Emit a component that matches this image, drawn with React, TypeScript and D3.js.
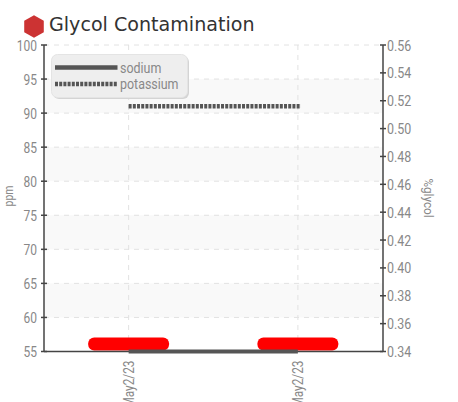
import React from "react";
import * as d3 from "d3";

const categories = ["a", "b"];
const categoryLabels = ["May2/23", "May2/23"];
const leftTicks = [55, 60, 65, 70, 75, 80, 85, 90, 95, 100];
const rightTicks = [0.34, 0.36, 0.38, 0.4, 0.42, 0.44, 0.46, 0.48, 0.5, 0.52, 0.54, 0.56];
const bands = [[90, 95], [80, 85], [70, 75], [60, 65]];
const sodium = [55, 55];
const potassium = [91, 91];
const glycol = [0.3454, 0.3454];

const L = 44, R = 383, T = 45, B = 351.5;
const font = "Roboto, sans-serif";
const S = 0.8;

export default function App() {
  const x = d3.scaleBand<string>().domain(categories).range([L, R - 0.5]);
  const cx = (c: string) => (x(c) as number) + x.bandwidth() / 2;
  const y = d3.scaleLinear().domain([55, 100]).range([B, T]);
  const y2 = d3.scaleLinear().domain([0.34, 0.56]).range([B, T]);
  const line = d3.line<number>().x((_, i) => cx(categories[i])).y((d) => y(d));
  const dotted = d3.line<number>().x((_, i) => cx(categories[i]) + (i ? 3 : 0)).y((d) => y(d));
  const barW = x.bandwidth() * 0.478;
  const barH = 13.2;
  const hex = d3.range(6).map((i) => {
    const a = Math.PI / 6 + (i * Math.PI) / 3;
    return `${34 + 11.3 * Math.cos(a)},${26.5 + 11.3 * Math.sin(a)}`;
  }).join(" ");

  return (
    <svg width={458} height={402} style={{ position: "absolute", left: 0, top: 0 }}>
      <polygon points={hex} fill="#cc3333" />
      <text x={49} y={31} fontFamily="'DejaVu Sans', sans-serif" fontSize={19.1} fill="#333">Glycol Contamination</text>

      {bands.map(([a, b]) => (
        <rect key={a} x={L} width={R - L} y={y(b)} height={y(a) - y(b)} fill="#f9f9f9" />
      ))}
      {leftTicks.slice(1).map((t) => (
        <line key={t} x1={L} x2={R} y1={y(t)} y2={y(t)} stroke="#e2e2e2" strokeDasharray="5 5" />
      ))}
      {categories.map((c) => (
        <line key={c} x1={cx(c)} x2={cx(c)} y1={T} y2={B} stroke="#e2e2e2" strokeDasharray="5 5" />
      ))}

      <path d={dotted(potassium) as string} fill="none" stroke="#555" strokeWidth={4.5} strokeDasharray="3 1.2" />
      {categories.map((c, i) => (
        <rect key={c} x={cx(c) - barW / 2} width={barW} y={y2(glycol[i]) - barH / 2} height={barH} rx={6} fill="#ff0000" />
      ))}

      <line x1={L} x2={L} y1={T} y2={B} stroke="#444" strokeWidth={1.5} />
      <line x1={R} x2={R} y1={T} y2={B} stroke="#444" strokeWidth={1.5} />
      <line x1={L} x2={R} y1={B} y2={B} stroke="#444" strokeWidth={1.5} />
      <path d={line(sodium) as string} fill="none" stroke="#555" strokeWidth={4} />

      {leftTicks.map((t) => (
        <g key={t}>
          <line x1={L - 3} x2={L + 3} y1={y(t)} y2={y(t)} stroke="#444" strokeWidth={1.5} />
          <text transform={`translate(${L - 7},${y(t) + 5.5}) scale(${S},1)`} textAnchor="end" fontFamily={font} fontSize={15} fill="#888">{t}</text>
        </g>
      ))}
      {rightTicks.map((t) => (
        <g key={t}>
          <line x1={R - 3} x2={R + 3} y1={y2(t)} y2={y2(t)} stroke="#444" strokeWidth={1.5} />
          <text transform={`translate(${R + 4},${y2(t) + 5.5}) scale(0.83,1)`} fontFamily={font} fontSize={15} fill="#888">{t.toFixed(2)}</text>
        </g>
      ))}
      {categories.map((c, i) => (
        <text key={c} transform={`translate(${cx(c) + 5},${B + 9}) rotate(-90) scale(0.79,1)`} textAnchor="end" fontFamily={font} fontSize={15} fill="#888">{categoryLabels[i]}</text>
      ))}

      <text transform={`translate(13,196) rotate(-90) scale(${S},1)`} textAnchor="middle" fontFamily={font} fontSize={13} fill="#888">ppm</text>
      <text transform="translate(424,198) rotate(90) scale(0.9,1)" textAnchor="middle" fontFamily={font} fontSize={13} fill="#888">%glycol</text>

      <rect x={53} y={56} width={136} height={43} rx={6} fill="#d4d4d4" />
      <rect x={51.5} y={54.5} width={136} height={43} rx={6} fill="#eeeeee" stroke="#e4e4e4" />
      <line x1={55} x2={117.5} y1={67.5} y2={67.5} stroke="#555" strokeWidth={4.5} />
      <line x1={55} x2={117.5} y1={84} y2={84} stroke="#555" strokeWidth={4.5} strokeDasharray="3 1.2" />
      <text transform="translate(120,72.5) scale(0.83,1)" fontFamily={font} fontSize={15} fill="#888">sodium</text>
      <text transform="translate(120,88.5) scale(0.83,1)" fontFamily={font} fontSize={15} fill="#888">potassium</text>
    </svg>
  );
}
